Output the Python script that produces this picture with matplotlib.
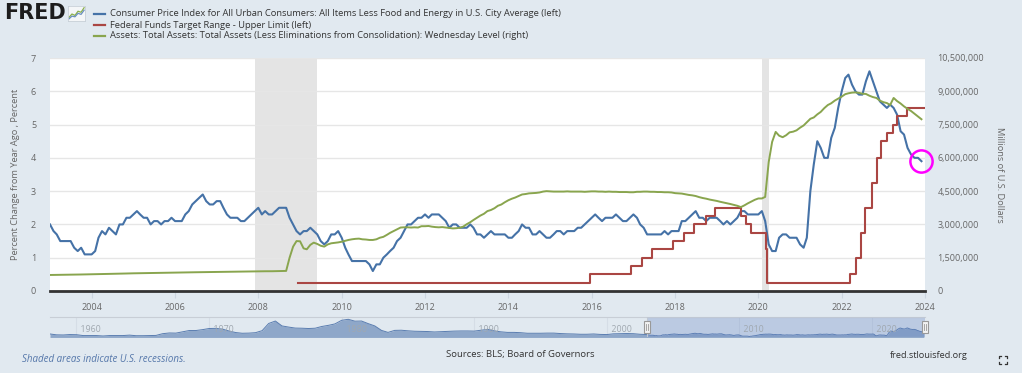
import matplotlib
matplotlib.use("Agg")
import matplotlib.pyplot as plt
import matplotlib.lines as mlines
import matplotlib.patches as mpatches
import numpy as np
import pandas as pd

# ---------------- data ----------------
cpi_core_yoy = [
    2.0, 1.8, 1.7, 1.5, 1.5, 1.5, 1.5, 1.3, 1.2, 1.3, 1.1, 1.1,   # 2003
    1.1, 1.2, 1.6, 1.8, 1.7, 1.9, 1.8, 1.7, 2.0, 2.0, 2.2, 2.2,   # 2004
    2.3, 2.4, 2.3, 2.2, 2.2, 2.0, 2.1, 2.1, 2.0, 2.1, 2.1, 2.2,   # 2005
    2.1, 2.1, 2.1, 2.3, 2.4, 2.6, 2.7, 2.8, 2.9, 2.7, 2.6, 2.6,   # 2006
    2.7, 2.7, 2.5, 2.3, 2.2, 2.2, 2.2, 2.1, 2.1, 2.2, 2.3, 2.4,   # 2007
    2.5, 2.3, 2.4, 2.3, 2.3, 2.4, 2.5, 2.5, 2.5, 2.2, 2.0, 1.8,   # 2008
    1.7, 1.8, 1.8, 1.9, 1.8, 1.7, 1.5, 1.4, 1.5, 1.7, 1.7, 1.8,   # 2009
    1.6, 1.3, 1.1, 0.9, 0.9, 0.9, 0.9, 0.9, 0.8, 0.6, 0.8, 0.8,   # 2010
    1.0, 1.1, 1.2, 1.3, 1.5, 1.6, 1.8, 2.0, 2.0, 2.1, 2.2, 2.2,   # 2011
    2.3, 2.2, 2.3, 2.3, 2.3, 2.2, 2.1, 1.9, 2.0, 2.0, 1.9, 1.9,   # 2012
    1.9, 2.0, 1.9, 1.7, 1.7, 1.6, 1.7, 1.8, 1.7, 1.7, 1.7, 1.7,   # 2013
    1.6, 1.6, 1.7, 1.8, 2.0, 1.9, 1.9, 1.7, 1.7, 1.8, 1.7, 1.6,   # 2014
    1.6, 1.7, 1.8, 1.8, 1.7, 1.8, 1.8, 1.8, 1.9, 1.9, 2.0, 2.1,   # 2015
    2.2, 2.3, 2.2, 2.1, 2.2, 2.2, 2.2, 2.3, 2.2, 2.1, 2.1, 2.2,   # 2016
    2.3, 2.2, 2.0, 1.9, 1.7, 1.7, 1.7, 1.7, 1.7, 1.8, 1.7, 1.8,   # 2017
    1.8, 1.8, 2.1, 2.1, 2.2, 2.3, 2.4, 2.2, 2.2, 2.1, 2.2, 2.2,   # 2018
    2.2, 2.1, 2.0, 2.1, 2.0, 2.1, 2.2, 2.4, 2.4, 2.3, 2.3, 2.3,   # 2019
    2.3, 2.4, 2.1, 1.4, 1.2, 1.2, 1.6, 1.7, 1.7, 1.6, 1.6, 1.6,   # 2020
    1.4, 1.3, 1.6, 3.0, 3.8, 4.5, 4.3, 4.0, 4.0, 4.6, 4.9, 5.5,   # 2021
    6.0, 6.4, 6.5, 6.2, 6.0, 5.9, 5.9, 6.3, 6.6, 6.3, 6.0, 5.7,   # 2022
    5.6, 5.5, 5.6, 5.5, 5.3, 4.8, 4.7, 4.3, 4.1, 4.0, 4.0, 3.9,   # 2023
]

fed_dates = ['2008-12-16', '2015-12-17', '2016-12-15', '2017-03-16', '2017-06-15',
             '2017-12-14', '2018-03-22', '2018-06-14', '2018-09-27', '2018-12-20',
             '2019-08-01', '2019-09-19', '2019-10-31', '2020-03-04', '2020-03-16',
             '2022-03-17', '2022-05-05', '2022-06-16', '2022-07-28', '2022-09-22',
             '2022-11-03', '2022-12-15', '2023-02-02', '2023-03-23', '2023-05-04',
             '2023-07-27', '2024-01-01']
fed_upper = [0.25, 0.5, 0.75, 1.0, 1.25, 1.5, 1.75, 2.0, 2.25, 2.5,
             2.25, 2.0, 1.75, 1.25, 0.25, 0.5, 1.0, 1.75, 2.5, 3.25,
             4.0, 4.5, 4.75, 5.0, 5.25, 5.5, 5.5]

total_assets = [  # millions of U.S. dollars, monthly
    722000, 724000, 727000, 731000, 733000, 735000, 737000, 739000, 741000, 744000, 748000, 752000,
    754000, 757000, 761000, 765000, 768000, 771000, 774000, 777000, 781000, 785000, 789000, 795000,
    797000, 800000, 803000, 806000, 808000, 810000, 813000, 816000, 818000, 821000, 824000, 828000,
    830000, 832000, 835000, 837000, 840000, 842000, 845000, 847000, 850000, 852000, 855000, 858000,
    860000, 862000, 864000, 866000, 868000, 870000, 872000, 874000, 876000, 879000, 882000, 888000,
    892000, 894000, 890000, 888000, 891000, 895000, 900000, 904000, 905000, 1500000, 2000000, 2250000,
    2240000, 1920000, 1880000, 2080000, 2180000, 2120000, 2040000, 2000000, 2100000, 2150000, 2170000, 2190000,
    2220000, 2260000, 2300000, 2330000, 2350000, 2360000, 2330000, 2320000, 2300000, 2300000, 2330000, 2400000,
    2440000, 2530000, 2620000, 2700000, 2780000, 2860000, 2870000, 2870000, 2860000, 2870000, 2860000, 2920000,
    2920000, 2930000, 2900000, 2880000, 2870000, 2880000, 2860000, 2840000, 2820000, 2830000, 2850000, 2900000,
    3010000, 3100000, 3200000, 3300000, 3400000, 3480000, 3600000, 3650000, 3730000, 3840000, 3900000, 4000000,
    4090000, 4160000, 4210000, 4280000, 4350000, 4370000, 4400000, 4410000, 4420000, 4440000, 4480000, 4500000,
    4490000, 4480000, 4480000, 4480000, 4480000, 4490000, 4480000, 4480000, 4480000, 4480000, 4470000, 4480000,
    4490000, 4490000, 4480000, 4480000, 4470000, 4480000, 4470000, 4470000, 4460000, 4460000, 4460000, 4450000,
    4450000, 4470000, 4470000, 4480000, 4480000, 4470000, 4470000, 4460000, 4460000, 4450000, 4450000, 4440000,
    4410000, 4400000, 4390000, 4360000, 4330000, 4310000, 4280000, 4230000, 4190000, 4160000, 4120000, 4090000,
    4060000, 4020000, 3990000, 3960000, 3920000, 3880000, 3840000, 3780000, 3860000, 3950000, 4030000, 4110000,
    4170000, 4170000, 4240000, 5810000, 6720000, 7170000, 7000000, 6930000, 7020000, 7150000, 7180000, 7240000,
    7360000, 7460000, 7600000, 7760000, 7820000, 7960000, 8070000, 8240000, 8380000, 8460000, 8580000, 8670000,
    8760000, 8870000, 8910000, 8940000, 8950000, 8930000, 8890000, 8880000, 8800000, 8740000, 8700000, 8580000,
    8510000, 8470000, 8380000, 8700000, 8560000, 8450000, 8320000, 8210000, 8110000, 7990000, 7860000, 7740000,
]

# long-history core CPI (navigator), semi-annual 1958-2002
nav_cpi_early = [
    2.4, 1.8, 1.7, 2.0, 1.9, 1.3, 1.3, 1.3, 1.0, 1.3, 1.3, 1.3, 1.6, 1.2, 1.2, 1.3,
    1.4, 2.6, 3.1, 3.0, 3.9, 4.8, 4.8, 5.4, 6.2, 6.3, 5.8, 4.5, 3.4, 2.9, 3.0, 3.3,
    4.7, 9.7, 11.4, 8.0, 7.2, 6.5, 6.4, 6.2, 6.4, 7.6, 8.4, 9.4, 11.9, 12.6, 11.3, 11.4,
    9.6, 8.0, 4.9, 3.5, 4.9, 5.0, 4.6, 4.3, 4.2, 4.1, 3.8, 4.0, 4.2, 4.4, 4.5, 4.5,
    4.4, 5.0, 5.6, 4.6, 3.9, 3.5, 3.5, 3.3, 2.9, 2.9, 2.9, 3.0, 3.0, 2.7, 2.5, 2.4,
    2.2, 2.2, 2.4, 2.1, 2.0, 2.5, 2.6, 2.7, 2.6, 2.2,
]

recessions = [('2007-12-01', '2009-06-01'), ('2020-02-01', '2020-04-01')]

legend_labels = [
    "Consumer Price Index for All Urban Consumers: All Items Less Food and Energy in U.S. City Average (left)",
    "Federal Funds Target Range - Upper Limit (left)",
    "Assets: Total Assets: Total Assets (Less Eliminations from Consolidation): Wednesday Level (right)",
]
left_ticks = [0, 1, 2, 3, 4, 5, 6, 7]
right_ticks = [0, 1500000, 3000000, 4500000, 6000000, 7500000, 9000000, 10500000]
year_ticks = list(range(2004, 2025, 2))
nav_year_ticks = list(range(1960, 2030, 10))

# ---------------- style ----------------
W, H = 1022, 373
BG = '#e1e9f0'
BLUE, RED, GREEN = '#4572a7', '#aa4643', '#89a54e'
FONT = 'Open Sans'
TXT = '#666666'
plt.rcParams['font.family'] = [FONT, 'DejaVu Sans']


def fx(px):
    return px / W


def fy(py):
    return 1 - py / H


fig = plt.figure(figsize=(W / 100, H / 100), dpi=100, facecolor=BG)

# ---------------- main axes ----------------
L, R, T, B = 50, 925, 58, 291
ax = fig.add_axes([fx(L), fy(B), (R - L) / W, (B - T) / H])
ax.set_facecolor('white')

dates_m = pd.date_range('2003-01-01', periods=len(cpi_core_yoy), freq='MS')
fed_dt = pd.to_datetime(fed_dates)

for s, e in recessions:
    ax.axvspan(pd.Timestamp(s), pd.Timestamp(e), color='#e4e4e4', lw=0, zorder=0.5)

ax.set_xlim(pd.Timestamp('2003-01-01'), pd.Timestamp('2024-01-01'))
ax.set_ylim(0, 7)
ax.set_yticks(left_ticks)
ax.set_yticklabels([str(v) for v in left_ticks])
ax.grid(axis='y', color='#e6e6e6', lw=1, zorder=0.2)
ax.set_axisbelow(True)
ax.set_xticks([pd.Timestamp(f'{y}-01-01') for y in year_ticks])
ax.set_xticklabels([str(y) for y in year_ticks])
ax.tick_params(axis='x', length=5, width=0.8, color='#ccd6e0', labelsize=6.5,
               labelcolor=TXT, pad=4)
ax.tick_params(axis='y', length=0, labelsize=6.5, labelcolor=TXT, pad=10)
for sp in ['left', 'right', 'top']:
    ax.spines[sp].set_visible(False)
ax.spines['bottom'].set_color('#333333')
ax.spines['bottom'].set_linewidth(2)
ax.spines['bottom'].set_zorder(5)

ax.plot(dates_m, cpi_core_yoy, color=BLUE, lw=1.5, zorder=3, solid_joinstyle='round')
ax.step(fed_dt, fed_upper, where='post', color=RED, lw=1.5, zorder=3)
ax.set_ylabel('Percent Change from Year Ago , Percent', fontsize=6.7, color=TXT, labelpad=7.5)

ax2 = ax.twinx()
ax2.set_ylim(0, 10500000)
ax2.set_yticks(right_ticks)
ax2.set_yticklabels([f'{v:,}' for v in right_ticks])
ax2.tick_params(axis='y', length=0, labelsize=6.5, labelcolor=TXT, pad=9)
for sp in ['left', 'right', 'top', 'bottom']:
    ax2.spines[sp].set_visible(False)
ax2.plot(dates_m, total_assets, color=GREEN, lw=1.4, zorder=3)
ax2.set_ylabel('Millions of U.S. Dollars', fontsize=6.7, color=TXT, rotation=270, labelpad=14)

# highlight circle on the last CPI observation
ax.plot(dates_m[-1:], cpi_core_yoy[-1:], marker='o', ms=16, mfc='none', mec='#ff00ff',
        mew=1.8, zorder=6, clip_on=False)

# ---------------- navigator ----------------
NT, NB = 317, 337
nav = fig.add_axes([fx(L), fy(NB), (R - L) / W, (NB - NT) / H])
nav.set_facecolor(BG)
nav_dates = list(pd.date_range('1958-01-01', periods=len(nav_cpi_early), freq='6MS')) + list(dates_m)
nav_vals = list(nav_cpi_early) + list(cpi_core_yoy)
nav.fill_between(nav_dates, 0, nav_vals, color='#8ea7c9', lw=0, zorder=2)
nav.plot(nav_dates, nav_vals, color='#5a7db0', lw=0.7, zorder=3)
nav.set_xlim(pd.Timestamp('1958-01-01'), pd.Timestamp('2024-01-01'))
nav.set_ylim(0.3, 14.2)
for y in nav_year_ticks:
    t = pd.Timestamp(f'{y}-01-01')
    nav.axvline(t, color='#d5dde6', lw=0.8, zorder=1)
    nav.text(t, 0.35, f'  {y}', transform=nav.get_xaxis_transform(), fontsize=6.3,
             color='#a0a8b0', va='center', ha='left', zorder=4)
nav.axvspan(pd.Timestamp('2003-01-01'), pd.Timestamp('2024-01-01'),
            facecolor=(102 / 255, 133 / 255, 194 / 255, 0.3), edgecolor='#c0c8d4', lw=0.8, zorder=3.5)
nav.set_xticks([])
nav.set_yticks([])
for sp in ['left', 'right', 'bottom']:
    nav.spines[sp].set_visible(False)
nav.spines['top'].set_color('#c8ced6')
nav.spines['top'].set_linewidth(0.8)
for hx in [pd.Timestamp('2003-01-01'), pd.Timestamp('2024-01-01')]:
    hxd = matplotlib.dates.date2num(hx)
    x0 = nav.transData.transform((hxd, 0))[0]
    hw, hh = 6, 12
    rect = mpatches.Rectangle((x0 - hw / 2, fig.bbox.height * fy(327) - hh / 2), hw, hh,
                              transform=None, facecolor='#f2f2f2', edgecolor='#999999',
                              lw=0.8, zorder=10)
    fig.add_artist(rect)
    for dx in (-1, 1):
        fig.add_artist(mlines.Line2D([x0 + dx, x0 + dx],
                                     [fig.bbox.height * fy(327) - 3, fig.bbox.height * fy(327) + 3],
                                     transform=None, color='#999999', lw=0.6, zorder=11))

# ---------------- legend / header ----------------
fig.text(fx(4), fy(13), 'FRED', fontsize=15, fontweight='heavy', family='DejaVu Sans',
         color='#1d1d1d', va='center', ha='left')
icon = fig.add_axes([fx(68), fy(21), 17 / W, 15 / H])
icon.set_facecolor('#f4f6f8')
logo_x = [0, 1, 2, 3, 4, 5]
logo_green = [1.0, 2.0, 1.6, 2.8, 2.5, 3.8]
logo_blue = [0.6, 1.4, 1.2, 2.2, 1.9, 3.1]
icon.plot(logo_x, logo_green, color='#8ab04a', lw=0.9)
icon.plot(logo_x, logo_blue, color='#6a8fc0', lw=0.9)
icon.set_xlim(-0.3, 5.3)
icon.set_ylim(0, 4.3)
icon.set_xticks([])
icon.set_yticks([])
for sp in icon.spines.values():
    sp.set_color('#c8d0d8')
    sp.set_linewidth(0.6)

leg_y = [14, 25, 36]
for lab, col, yy in zip(legend_labels, [BLUE, RED, GREEN], leg_y):
    fig.add_artist(mlines.Line2D([fx(94), fx(105)], [fy(yy), fy(yy)], color=col, lw=1.6))
    fig.text(fx(110), fy(yy), lab, fontsize=6.75, color='#333333', va='center', ha='left')

# ---------------- footer ----------------
fig.text(fx(22), fy(359), 'Shaded areas indicate U.S. recessions.', fontsize=7,
         style='italic', color='#5577aa', va='center', ha='left')
fig.text(fx(520), fy(355), 'Sources: BLS; Board of Governors', fontsize=6.8,
         color='#333333', va='center', ha='center')
fig.text(fx(968), fy(355), 'fred.stlouisfed.org', fontsize=6.6,
         color='#333333', va='center', ha='right')
cx, cy, s, g = 1003, 360, 4, 2
for sx, sy in [(-1, -1), (1, -1), (-1, 1), (1, 1)]:
    xa, ya = cx + sx * s, cy + sy * s
    fig.add_artist(mlines.Line2D([fx(xa), fx(xa), fx(xa - sx * g)],
                                 [fy(ya - sy * g), fy(ya), fy(ya)], color='#333333', lw=0.9))

fig.savefig('out.png', dpi=100, facecolor=BG)
